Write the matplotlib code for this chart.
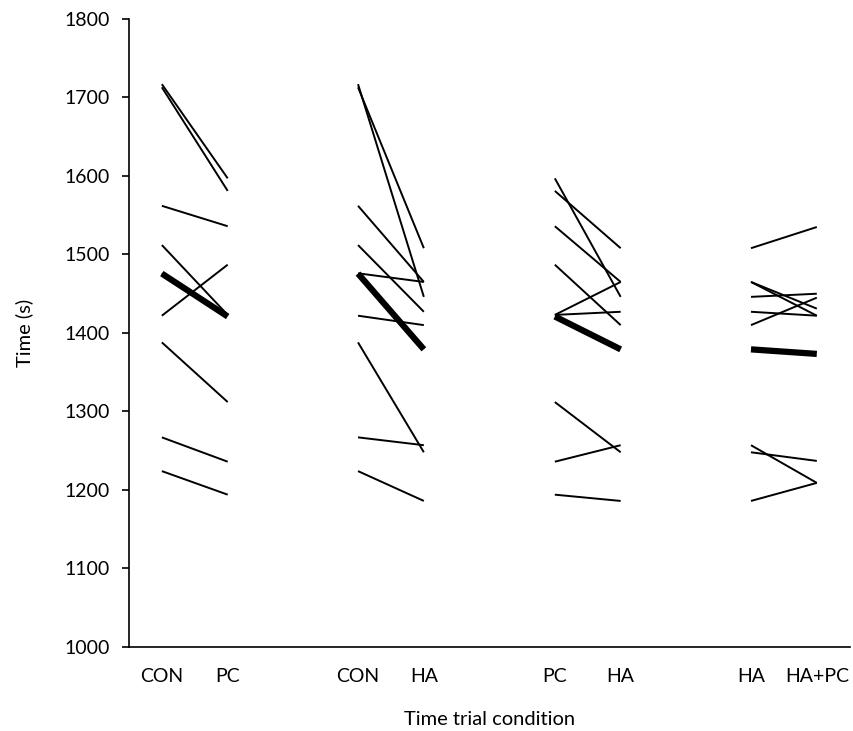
import numpy as np
import matplotlib
matplotlib.use("Agg")
import matplotlib.pyplot as plt

# per-subject times (s), same subject order in every array
con = [1717, 1713, 1562, 1512, 1476, 1422, 1388, 1267, 1224]
pc = [1597, 1581, 1536, 1423, 1423, 1487, 1312, 1236, 1194]
ha = [1446, 1508, 1465, 1427, 1465, 1410, 1248, 1257, 1186]
ha_pc = [1450, 1535, 1431, 1422, 1422, 1445, 1237, 1209, 1209]

# comparisons shown left to right
pairs = [(con, pc), (con, ha), (pc, ha), (ha, ha_pc)]
tick_labels = ["CON", "PC", "CON", "HA", "PC", "HA", "HA", "HA+PC"]
positions = [0.5, 1.5, 3.48, 4.48, 6.47, 7.47, 9.45, 10.45]

plt.rcParams['font.family'] = ['Lato', 'DejaVu Sans']

fig = plt.figure(figsize=(8.54, 7.31), dpi=100)
ax = fig.add_axes([0.151, 0.115, 0.844, 0.859])

for k, (a, b) in enumerate(pairs):
    x0, x1 = positions[2 * k], positions[2 * k + 1]
    for va, vb in zip(a, b):
        ax.plot([x0, x1], [va, vb], color='black', lw=1.4, solid_capstyle='butt')
    # group mean
    ax.plot([x0, x1], [np.mean(a), np.mean(b)], color='black', lw=4.5,
            solid_capstyle='butt')

ax.set_xlim(0, 10.95)
ax.set_ylim(1000, 1800)
ax.set_yticks(range(1000, 1801, 100))
ax.set_xticks(positions)
ax.set_xticklabels(tick_labels)

ax.spines['top'].set_visible(False)
ax.spines['right'].set_visible(False)
ax.spines['left'].set_linewidth(1.2)
ax.spines['bottom'].set_linewidth(1.2)

ax.tick_params(axis='y', direction='out', length=5, width=1.2, pad=9, labelsize=14)
ax.tick_params(axis='x', length=0, pad=15, labelsize=14)

ax.set_ylabel("Time (s)", fontsize=14.5, labelpad=22)
ax.set_xlabel("Time trial condition", fontsize=14.5, labelpad=19)

fig.savefig("out.png", dpi=100)
